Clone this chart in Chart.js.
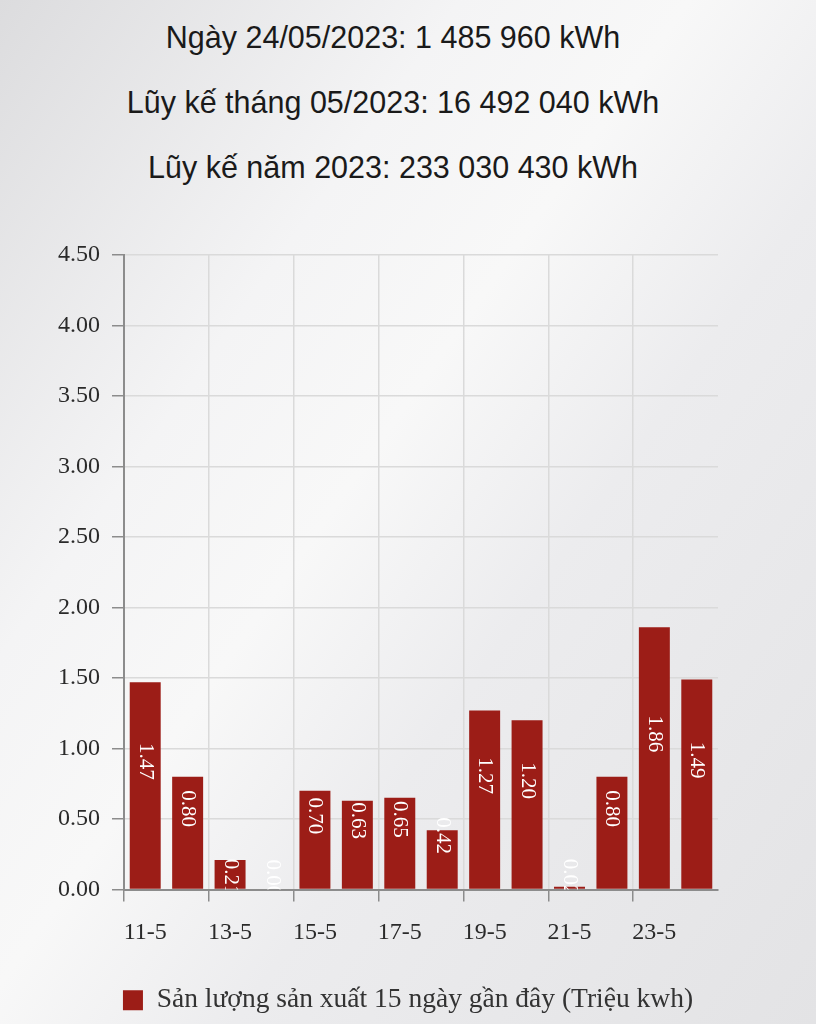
<!DOCTYPE html>
<html>
<head>
<meta charset="utf-8">
<script src="https://cdn.jsdelivr.net/npm/chart.js@4.4.0/dist/chart.umd.min.js"></script>
<style>
  html, body { margin: 0; padding: 0; }
  body {
    width: 816px; height: 1024px; overflow: hidden; position: relative;
    background: linear-gradient(125deg, #dcdcde 0%, #f4f4f5 30%, #f8f8f8 45%, #ececee 62%, #e3e3e5 100%);
  }
  .info {
    position: absolute; left: 0; width: 786px; text-align: center; line-height: 36px;
    font-family: "Liberation Sans", Arial, sans-serif; font-size: 30.5px; color: #1a1a1a;
  }
  #wrap { position: absolute; left: 0; top: 0; width: 816px; height: 1024px; }
</style>
</head>
<body>
<div class="info" style="top:19px">Ngày 24/05/2023: 1 485 960 kWh</div>
<div class="info" style="top:84px">Lũy kế tháng 05/2023: 16 492 040 kWh</div>
<div class="info" style="top:149px">Lũy kế năm 2023: 233 030 430 kWh</div>
<div id="wrap"><canvas id="graphCanvas"></canvas></div>
<script>
var days = ["11-5","12-5","13-5","14-5","15-5","16-5","17-5","18-5","19-5","20-5","21-5","22-5","23-5","24-5"];
var output = [1.47, 0.80, 0.21, 0.00, 0.70, 0.63, 0.65, 0.42, 1.27, 1.20, 0.02, 0.80, 1.86, 1.49];
var series_name = "Sản lượng sản xuất 15 ngày gần đây (Triệu kwh)";
var y_max = 4.5;
var y_step = 0.5;

var barRed = '#9c1d17';
var serif = "'Liberation Serif', 'DejaVu Serif', serif";

// rotated white value labels inside the bars
var valueLabels = {
  id: 'valueLabels',
  afterDatasetsDraw: function(chart) {
    var ctx = chart.ctx;
    var area = chart.chartArea;
    var meta = chart.getDatasetMeta(0);
    ctx.save();
    ctx.beginPath();
    ctx.rect(area.left, area.top, area.right - area.left, area.bottom - area.top);
    ctx.clip();
    ctx.fillStyle = '#ffffff';
    ctx.font = '21px ' + serif;
    ctx.textAlign = 'center';
    ctx.textBaseline = 'middle';
    meta.data.forEach(function(bar, ii) {
      var txt = output[ii].toFixed(2);
      var len = ctx.measureText(txt).width;
      var h = bar.base - bar.y;
      var yc;
      if (h >= len) {
        yc = (bar.y + bar.base) / 2 - 24;
      } else {
        yc = Math.min(bar.y, bar.base - 30) + len / 2;
      }
      ctx.save();
      ctx.translate(bar.x, yc);
      ctx.rotate(Math.PI / 2);
      ctx.fillText(txt, 0, 0);
      ctx.restore();
    });
    ctx.restore();
  }
};

var chartdata = {
  labels: days,
  datasets: [{
    label: series_name,
    backgroundColor: barRed,
    borderColor: barRed,
    borderWidth: 0,
    barPercentage: 0.73,
    categoryPercentage: 1.0,
    data: output
  }]
};

var graphTarget = document.getElementById("graphCanvas");
var barGraph = new Chart(graphTarget, {
  type: 'bar',
  data: chartdata,
  plugins: [valueLabels],
  options: {
    responsive: true,
    maintainAspectRatio: false,
    animation: false,
    layout: { padding: { top: 255, left: 0, right: 0, bottom: 0 } },
    plugins: {
      tooltip: { enabled: false },
      legend: {
        position: 'bottom',
        labels: {
          color: '#333333',
          font: { family: serif, size: 27.5 },
          boxWidth: 20,
          boxHeight: 20,
          padding: 12
        }
      }
    },
    scales: {
      x: {
        offset: true,
        afterFit: function(scale) { scale.height = 85; },
        grid: {
          offset: true,
          tickLength: 12,
          color: function(c) { return c.index % 2 === 0 ? '#dadada' : 'rgba(0,0,0,0)'; },
          tickColor: function(c) { return c.index % 2 === 0 ? '#8c8c8c' : 'rgba(0,0,0,0)'; },
          lineWidth: 1.5
        },
        border: { color: '#8c8c8c', width: 2 },
        ticks: {
          autoSkip: false,
          maxRotation: 0,
          padding: 17,
          color: '#2a2a2a',
          font: { family: serif, size: 24 },
          callback: function(val, idx) { return idx % 2 === 0 ? this.getLabelForValue(val) : ''; }
        }
      },
      y: {
        min: 0,
        max: y_max,
        afterFit: function(scale) { scale.width = 124; },
        grid: { color: '#dadada', tickColor: '#8c8c8c', tickLength: 12, lineWidth: 1.5 },
        border: { color: '#8c8c8c', width: 2 },
        ticks: {
          stepSize: y_step,
          padding: 12,
          color: '#2a2a2a',
          font: { family: serif, size: 24 },
          callback: function(v) { return v.toFixed(2); }
        }
      },
      // empty right-hand margin so the legend centres on the whole page
      yRight: {
        position: 'right',
        afterFit: function(scale) { scale.width = 98; },
        grid: { display: false },
        border: { display: false },
        ticks: { display: false }
      }
    }
  }
});
</script>
</body>
</html>
